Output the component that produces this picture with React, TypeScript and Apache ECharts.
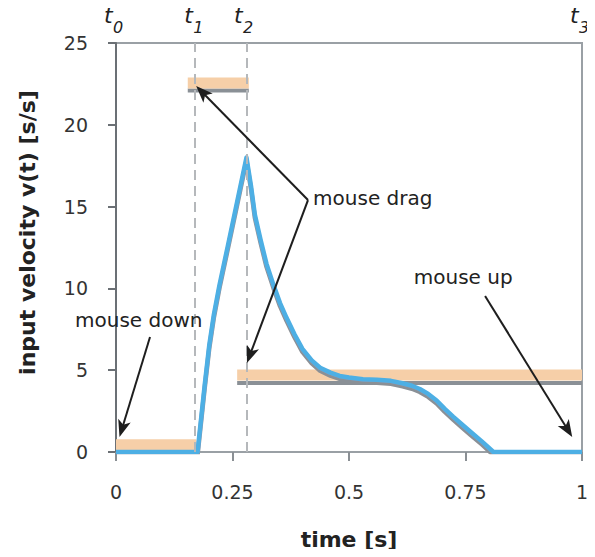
import React, { useEffect, useRef } from "react";
import * as echarts from "echarts";

// ---- data ----
const velocity: [number, number][] = [
  [0, 0], [0.175, 0], [0.19, 4.0], [0.2, 6.5], [0.21, 8.4], [0.222, 10.2],
  [0.24, 12.6], [0.26, 15.3], [0.28, 18.0], [0.29, 16.2], [0.298, 14.5],
  [0.31, 13.0], [0.323, 11.5], [0.338, 10.2], [0.352, 9.1], [0.366, 8.2],
  [0.383, 7.2], [0.4, 6.3], [0.42, 5.6], [0.438, 5.15], [0.46, 4.85],
  [0.48, 4.65], [0.5, 4.55], [0.53, 4.45], [0.56, 4.42], [0.59, 4.35],
  [0.615, 4.2], [0.635, 4.05], [0.652, 3.85], [0.67, 3.55], [0.688, 3.15],
  [0.705, 2.65], [0.724, 2.15], [0.742, 1.7], [0.76, 1.25], [0.785, 0.65],
  [0.81, 0], [1, 0],
];
const mouseDownBar: [number, number][] = [[0, 0.45], [0.172, 0.45]];
const dragBar: [number, number][] = [[0.154, 22.55], [0.285, 22.55]];
const dragBarBase: [number, number][] = [[0.154, 22.1], [0.285, 22.1]];
const holdBar: [number, number][] = [[0.26, 4.7], [1, 4.7]];
const holdBarBase: [number, number][] = [[0.26, 4.22], [1, 4.22]];
const eventTimes = [0, 0.172, 0.279, 1];
const eventSubscripts = ["0", "1", "2", "3"];
const yTicks = { min: 0, max: 25, interval: 5 };
const xTicks = { min: 0, max: 1, interval: 0.25 };

// annotation anchors (data space)
const downText = { x: -0.088, y: 8.07, text: "mouse down" };
const downArrow: [number, number][] = [[0.073, 7.03], [0.0075, 0.92]];
const dragText = { x: 0.423, y: 15.53, text: "mouse drag" };
const dragVertex: [number, number] = [0.412, 15.4];
const dragTips: [number, number][] = [[0.172, 22.37], [0.281, 5.44]];
const upText = { x: 0.639, y: 10.7, text: "mouse up" };
const upArrow: [number, number][] = [[0.792, 9.54], [0.979, 0.92]];

const FONT = '"DejaVu Sans", Verdana, sans-serif';
const BLUE = "#4dafe4";
const ORANGE = "#f6cfa8";
const SHADOW = "#8a9096";
const INK = "#1e1e1e";

function head(tip: number[], from: number[], len = 17, half = 6.5) {
  const dx = tip[0] - from[0];
  const dy = tip[1] - from[1];
  const d = Math.hypot(dx, dy);
  const ux = dx / d;
  const uy = dy / d;
  const bx = tip[0] - ux * len;
  const by = tip[1] - uy * len;
  const nx = tip[0] - ux * len * 0.75;
  const ny = tip[1] - uy * len * 0.75;
  return {
    points: [
      [tip[0], tip[1]],
      [bx - uy * half, by + ux * half],
      [nx, ny],
      [bx + uy * half, by - ux * half],
    ],
    lineEnd: [tip[0] - ux * len * 0.6, tip[1] - uy * len * 0.6],
  };
}

export default function App() {
  const ref = useRef<HTMLDivElement>(null);
  useEffect(() => {
    if (!ref.current) return;
    const chart = echarts.init(ref.current, undefined, { renderer: "svg" });
    const flat = (data: [number, number][], color: string, width: number, z: number) => ({
      type: "line",
      data,
      symbol: "none",
      z,
      silent: true,
      lineStyle: { color, width, cap: "butt" },
    });
    chart.setOption({
      animation: false,
      textStyle: { fontFamily: FONT },
      grid: {
        left: 116,
        right: 13,
        top: 43,
        bottom: 105,
        show: true,
        borderColor: "#9aa0a5",
        borderWidth: 2,
        outerBoundsMode: "none",
      },
      xAxis: {
        type: "value",
        min: xTicks.min,
        max: xTicks.max,
        interval: xTicks.interval,
        name: "time [s]",
        nameLocation: "middle",
        nameGap: 76,
        nameTextStyle: { fontFamily: FONT, fontSize: 22, fontWeight: "bold", color: "#222" },
        axisLine: { lineStyle: { color: "#9aa0a5", width: 2 } },
        axisTick: { show: true, length: 9, lineStyle: { color: "#8a8f94", width: 2 } },
        axisLabel: { fontFamily: FONT, fontSize: 19, color: "#333", margin: 30 },
        splitLine: { show: false },
      },
      yAxis: {
        type: "value",
        min: yTicks.min,
        max: yTicks.max,
        interval: yTicks.interval,
        name: "input velocity v(t) [s/s]",
        nameLocation: "middle",
        nameGap: 78,
        nameTextStyle: {
          fontFamily: FONT,
          fontSize: 22,
          fontWeight: "bold",
          color: "#222",
          padding: [0, 0, 0, 30],
        },
        axisLine: { lineStyle: { color: "#6b7075", width: 2 } },
        axisTick: { show: true, length: 8, lineStyle: { color: "#6b7075", width: 2 } },
        axisLabel: { fontFamily: FONT, fontSize: 19, color: "#333", margin: 28 },
        splitLine: { show: false },
      },
      series: [
        flat(dragBarBase, SHADOW, 4, 1),
        flat(holdBarBase, SHADOW, 4, 1),
        flat(mouseDownBar, ORANGE, 11, 1),
        flat(dragBar, ORANGE, 11, 1),
        flat(holdBar, ORANGE, 11, 1),
        {
          type: "line",
          data: [],
          z: 2,
          silent: true,
          markLine: {
            symbol: "none",
            silent: true,
            label: { show: false },
            lineStyle: { color: "#b5b8bb", width: 2, type: [10, 6] },
            data: eventTimes.slice(1, 3).map((t) => ({ xAxis: t })),
          },
        },
        {
          type: "line",
          data: velocity,
          symbol: "none",
          z: 3,
          silent: true,
          lineStyle: {
            color: BLUE,
            width: 4.5,
            join: "round",
            shadowColor: SHADOW,
            shadowOffsetY: 3,
            shadowBlur: 0,
          },
        },
      ],
    });

    const px = (p: number[]) => chart.convertToPixel({ xAxisIndex: 0, yAxisIndex: 0 }, p) as number[];
    const gTexts: any[] = [];
    const topY = px([0, yTicks.max])[1];
    eventTimes.forEach((t, i) => {
      const x = px([t, 0])[0];
      gTexts.push({
        type: "text",
        x: x - 12,
        y: topY - 17,
        z: 10,
        style: { text: "t", font: `italic 22px ${FONT}`, fill: "#222", align: "left", verticalAlign: "bottom" },
      });
      gTexts.push({
        type: "text",
        x: x - 3,
        y: topY - 8,
        z: 10,
        style: { text: eventSubscripts[i], font: `italic 16px ${FONT}`, fill: "#222", align: "left", verticalAlign: "bottom" },
      });
    });
    const label = (a: { x: number; y: number; text: string }) => {
      const p = px([a.x, a.y]);
      return {
        type: "text",
        x: p[0],
        y: p[1],
        z: 10,
        style: { text: a.text, font: `20px ${FONT}`, fill: "#222", align: "left", verticalAlign: "middle" },
      };
    };
    const arrow = (fromD: number[], tipD: number[]) => {
      const from = px(fromD);
      const tip = px(tipD);
      const h = head(tip, from);
      return [
        {
          type: "line",
          z: 10,
          shape: { x1: from[0], y1: from[1], x2: h.lineEnd[0], y2: h.lineEnd[1] },
          style: { stroke: INK, lineWidth: 2 },
        },
        { type: "polygon", z: 10, shape: { points: h.points }, style: { fill: INK } },
      ];
    };
    const graphics = [
      ...gTexts,
      label(downText),
      label(dragText),
      label(upText),
      ...arrow(downArrow[0], downArrow[1]),
      ...arrow(dragVertex, dragTips[0]),
      ...arrow(dragVertex, dragTips[1]),
      ...arrow(upArrow[0], upArrow[1]),
    ];
    chart.setOption({ graphic: graphics });
    return () => chart.dispose();
  }, []);
  return <div ref={ref} style={{ width: 595, height: 557, margin: -8 }} />;
}
